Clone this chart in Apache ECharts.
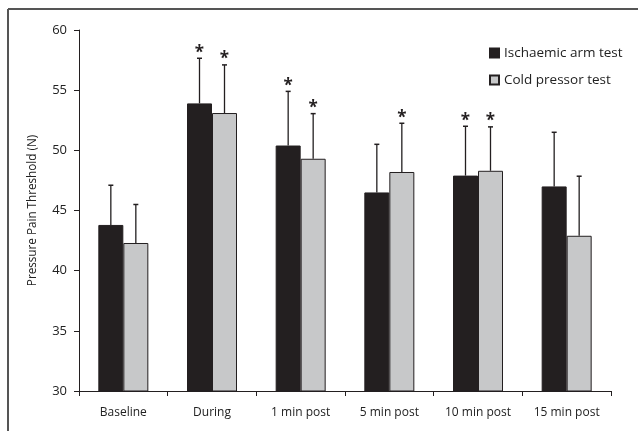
<!DOCTYPE html>
<html>
<head>
<meta charset="utf-8">
<script src="https://cdn.jsdelivr.net/npm/echarts@6/dist/echarts.min.js"></script>
<style>html,body{margin:0;padding:0;background:#fff}#c{width:638px;height:431px}</style>
</head>
<body>
<div id="c"></div>
<script>
var categories = ['Baseline', 'During', '1 min post', '5 min post', '10 min post', '15 min post'];
var ischaemic = [43.8, 53.9, 50.4, 46.5, 47.9, 47.0];
var ischaemicSD = [3.3, 3.75, 4.5, 4.0, 4.1, 4.5];
var ischaemicStar = [0, 1, 1, 0, 1, 0];
var cold = [42.3, 53.1, 49.3, 48.2, 48.3, 42.9];
var coldSD = [3.2, 4.0, 3.75, 4.05, 3.65, 4.95];
var coldStar = [0, 1, 1, 1, 1, 0];
var yTicks = [30, 35, 40, 45, 50, 55, 60];

var FONT = 'Open Sans';
var BAR_W = 25;
var DARK = '#231f20';
var GRAY = '#c7c8c9';

function errData(vals, sds, stars) {
  return vals.map(function (v, i) { return [i, v, v + sds[i], stars[i]]; });
}

function makeErr(offset) {
  return function (params, api) {
    var i = api.value(0);
    var base = api.coord([i, api.value(1)]);
    var top = api.coord([i, api.value(2)]);
    var x = base[0] + offset;
    var children = [
      { type: 'line', shape: { x1: x, y1: base[1], x2: x, y2: top[1] }, style: { stroke: DARK, lineWidth: 1.3 } },
      { type: 'line', shape: { x1: x - 2.5, y1: top[1], x2: x + 2.5, y2: top[1] }, style: { stroke: DARK, lineWidth: 1.5 } }
    ];
    if (api.value(3)) {
      children.push({ type: 'text', style: { text: '*', x: x, y: top[1] + 3, align: 'center', verticalAlign: 'bottom', font: 'bold 17px "' + FONT + '"', fill: DARK } });
    }
    return { type: 'group', children: children };
  };
}

var chart = echarts.init(document.getElementById('c'), null, { renderer: 'canvas' });
chart.setOption({
  animation: false,
  backgroundColor: '#fff',
  textStyle: { fontFamily: FONT },
  grid: { left: 79, right: 27, top: 30, bottom: 40, containLabel: false },
  legend: {
    orient: 'vertical', left: 484, top: 41, itemWidth: 9, itemHeight: 9, itemGap: 13,
    icon: 'rect',
    textStyle: { fontFamily: FONT, fontSize: 13.5, color: '#222' },
    data: ['Ischaemic arm test', 'Cold pressor test']
  },
  xAxis: {
    type: 'category', data: categories,
    axisLine: { lineStyle: { color: DARK, width: 1 } },
    axisTick: { show: true, alignWithLabel: false, length: 5, lineStyle: { color: DARK } },
    axisLabel: { fontFamily: FONT, fontSize: 12, color: '#222', margin: 16 }
  },
  yAxis: {
    type: 'value', min: yTicks[0], max: yTicks[yTicks.length - 1], interval: 5,
    name: 'Pressure Pain Threshold (N)', nameLocation: 'middle', nameGap: 40,
    nameTextStyle: { fontFamily: FONT, fontSize: 11.7, color: '#222' },
    axisLine: { show: true, lineStyle: { color: DARK, width: 1 } },
    axisTick: { show: true, length: 5, lineStyle: { color: DARK } },
    axisLabel: { fontFamily: FONT, fontSize: 13, color: '#222', margin: 12 },
    splitLine: { show: false }
  },
  graphic: [
    { type: 'line', shape: { x1: 8, y1: 9, x2: 640, y2: 9 }, style: { stroke: '#555', lineWidth: 2 } },
    { type: 'line', shape: { x1: 8, y1: 9, x2: 8, y2: 440 }, style: { stroke: '#555', lineWidth: 2 } }
  ],
  series: [
    { name: 'Ischaemic arm test', type: 'bar', data: ischaemic, barWidth: BAR_W, barGap: '0%',
      itemStyle: { color: DARK, borderColor: DARK, borderWidth: 1 } },
    { name: 'Cold pressor test', type: 'bar', data: cold, barWidth: BAR_W, barGap: '0%',
      itemStyle: { color: GRAY, borderColor: DARK, borderWidth: 1 } },
    { type: 'custom', renderItem: makeErr(-BAR_W / 2), data: errData(ischaemic, ischaemicSD, ischaemicStar), z: 5 },
    { type: 'custom', renderItem: makeErr(BAR_W / 2), data: errData(cold, coldSD, coldStar), z: 5 }
  ]
});
</script>
</body>
</html>
